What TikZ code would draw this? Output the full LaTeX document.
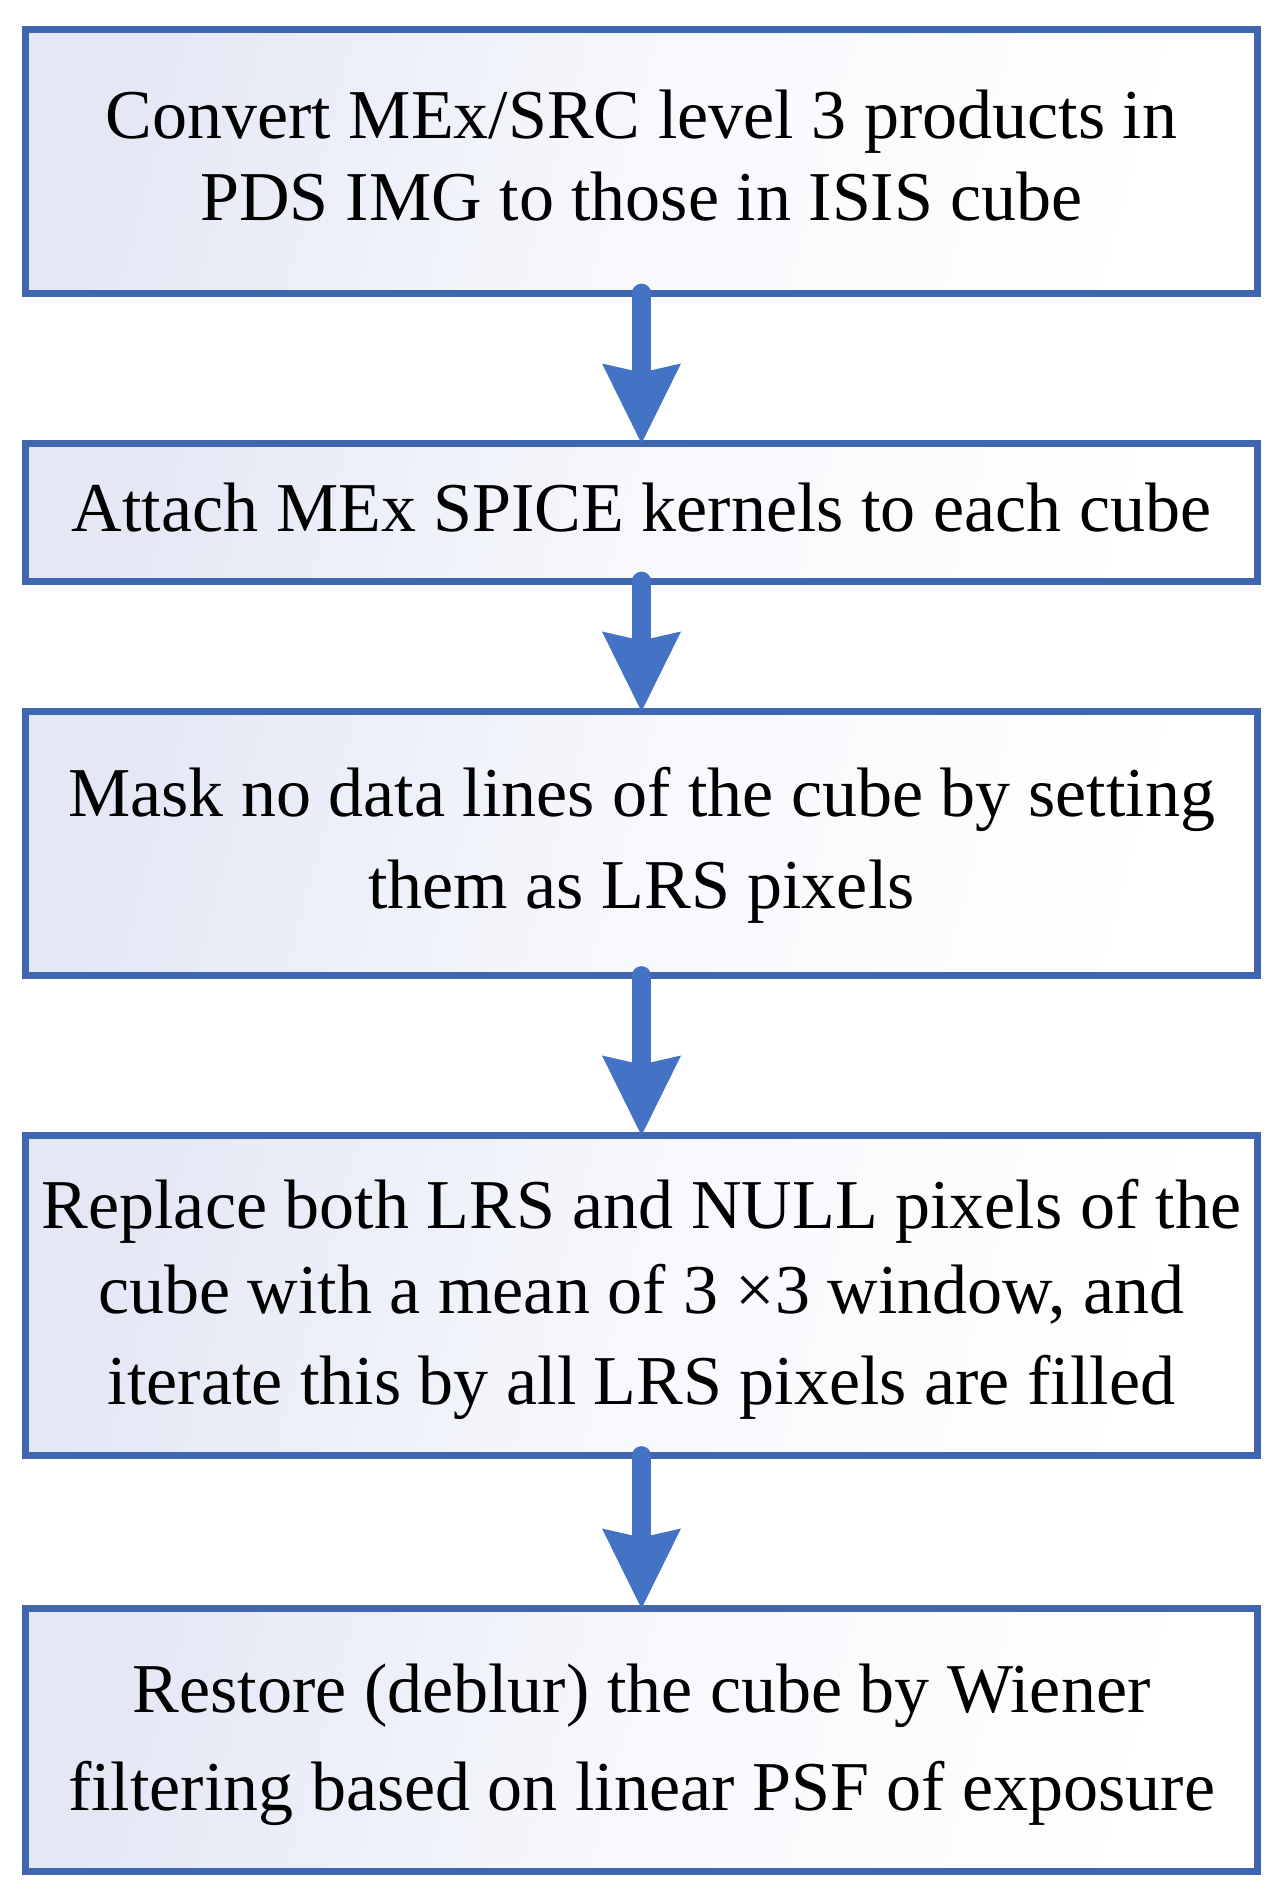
\documentclass[tikz,border=0pt]{standalone}
\usepackage{fontspec}
\setmainfont{Liberation Serif}
\usetikzlibrary{arrows.meta}
\definecolor{boxborder}{RGB}{63,102,174}
\definecolor{arrowblue}{RGB}{68,114,196}
\definecolor{lavender}{RGB}{228,232,245}
\begin{document}
\begin{tikzpicture}[x=1pt,y=-1pt,
  stepbox/.style={draw=boxborder, line width=7pt, outer sep=0pt, inner sep=0pt,
    minimum width=1232pt, rectangle,
    top color=lavender, bottom color=white, middle color=lavender!30!white, shading angle=75},
  txt/.style={anchor=base, inner sep=0pt, font=\fontsize{70}{84}\selectfont},
  flow/.style={draw=arrowblue, line width=18.7pt, line cap=round,
    -{Stealth[length=80pt, width=79pt, inset=9pt, line width=0pt]}}]
\useasboundingbox (0,0) rectangle (1281,1897);
% boxes
\node[stepbox, minimum height=263.5pt] (b1) at (641.5,161.25) {};
\node[stepbox, minimum height=137.5pt] (b2) at (641.5,512.25) {};
\node[stepbox, minimum height=264pt] (b3) at (641.5,843.5) {};
\node[stepbox, minimum height=320pt] (b4) at (641.5,1295.5) {};
\node[stepbox, minimum height=262.5pt] (b5) at (641.5,1739.75) {};
% texts
\node[txt] (t1a) at (641.5,138.3) {Convert MEx/SRC level 3 products in};
\node[txt] (t1b) at (641.5,220) {PDS IMG to those in ISIS cube};
\node[txt] (t2a) at (641.5,531.7) {Attach MEx SPICE kernels to each cube};
\node[txt] (t3a) at (641.5,816.7) {Mask no data lines of the cube by setting};
\node[txt] (t3b) at (641.5,908.3) {them as LRS pixels};
\node[txt] (t4a) at (641.5,1228.3) {Replace both LRS and NULL pixels of the};
\node[txt] (t4b) at (641.5,1313.3) {cube with a mean of 3 ×3 window, and};
\node[txt] (t4c) at (641.5,1404) {iterate this by all LRS pixels are filled};
\node[txt] (t5a) at (641.5,1712) {Restore (deblur) the cube by Wiener};
\node[txt] (t5b) at (641.5,1810) {filtering based on linear PSF of exposure};
% arrows
\draw[flow] (b1.south) -- (b2.north);
\draw[flow] (b2.south) -- (b3.north);
\draw[flow] (b3.south) -- (b4.north);
\draw[flow] (b4.south) -- (b5.north);
\end{tikzpicture}
\end{document}
